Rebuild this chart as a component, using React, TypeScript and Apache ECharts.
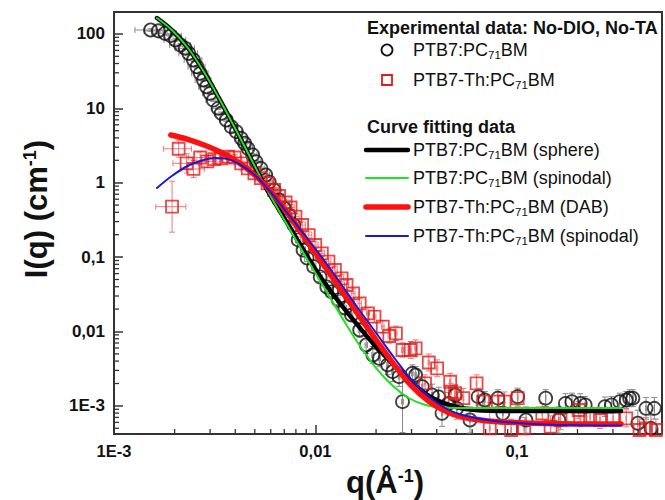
import React, { useEffect, useRef } from "react";
import * as echarts from "echarts";

const FONT = "'Liberation Sans', Arial, Helvetica, sans-serif";

// ---------- Experimental data: PTB7:PC71BM (circles) ----------
const qBlack = [
  0.00152, 0.00166, 0.00179, 0.00191, 0.00202, 0.00214, 0.00226, 0.00235, 0.00248, 0.00258,
  0.00268, 0.00278, 0.00288, 0.003, 0.00311, 0.00329, 0.00341, 0.00361, 0.00382, 0.00405,
  0.00428, 0.00445, 0.00462, 0.00488, 0.00507, 0.00536, 0.00567, 0.0059, 0.00624, 0.0066,
  0.00698, 0.00739, 0.00782, 0.00821, 0.00868, 0.00909, 0.0098, 0.01056, 0.01139, 0.01205,
  0.01299, 0.014, 0.0151, 0.01658, 0.01788, 0.01929, 0.02077, 0.02284, 0.02417, 0.02604,
  0.02706, 0.03029, 0.03144, 0.03392, 0.03797, 0.0409, 0.0425, 0.0458, 0.0494, 0.05035,
  0.05851, 0.06425, 0.0693, 0.08052, 0.0852, 0.1009, 0.111, 0.139, 0.1616, 0.1743,
  0.1877, 0.2064, 0.2184, 0.2737, 0.2949, 0.3242, 0.3492, 0.3629, 0.3767, 0.3985,
  0.4377, 0.4633, 0.4814,
];
const iBlack = [
  112.8, 110, 101.9, 94.6, 82.8, 70.9, 64.0, 54.8, 44.6, 36.2,
  29.5, 24.0, 19.5, 15.9, 12.9, 10.0, 8.57, 6.96, 5.66, 4.85,
  3.95, 3.39, 2.9, 2.36, 1.92, 1.56, 1.27, 1.02, 0.798, 0.585,
  0.457, 0.368, 0.27, 0.17, 0.1246, 0.0973, 0.0743, 0.054, 0.0396, 0.034,
  0.0265, 0.0207, 0.01667, 0.01047, 0.00658, 0.00483, 0.00436, 0.00355, 0.00288, 0.00247,
  0.00114, 0.00274, 0.0026, 0.00181, 0.0014, 0.00132, 0.000795, 0.00108, 0.0014, 0.000928,
  0.000646, 0.00133, 0.0012, 0.00127, 0.000795, 0.00133, 0.000646, 0.00127, 0.000646, 0.00108,
  0.00114, 0.00108, 0.00103, 0.000975, 0.00103, 0.00114, 0.0012, 0.00127, 0.00127, 0.000584,
  0.000928, 0.0005, 0.000928,
];
// vertical error (multiplicative factor)
const eyBlack = [
  1.04, 1.04, 1.04, 1.04, 1.04, 1.04, 1.04, 1.04, 1.04, 1.04,
  1.04, 1.04, 1.04, 1.04, 1.04, 1.04, 1.04, 1.04, 1.04, 1.04,
  1.04, 1.04, 1.04, 1.04, 1.04, 1.04, 1.04, 1.04, 1.05, 1.05,
  1.08, 1.08, 1.1, 1.1, 1.1, 1.12, 1.12, 1.15, 1.15, 1.15,
  1.15, 1.2, 1.2, 1.25, 1.3, 1.3, 1.3, 1.35, 1.35, 1.35,
  2.6, 1.3, 1.3, 1.35, 1.4, 1.35, 1.5, 1.4, 1.35, 1.4,
  1.5, 1.3, 1.3, 1.3, 1.4, 1.3, 1.5, 1.3, 1.5, 1.35,
  1.3, 1.35, 1.3, 1.35, 1.3, 1.3, 1.3, 1.3, 1.3, 1.5,
  1.4, 1.5, 1.4,
];
const dqBlack = 0.00025;

// ---------- Experimental data: PTB7-Th:PC71BM (squares) ----------
const qRed = [
  0.001942, 0.002094, 0.002292, 0.002481, 0.002676, 0.002906, 0.003145, 0.003403, 0.003684, 0.003972,
  0.00428, 0.004615, 0.004978, 0.005363, 0.005785, 0.006239, 0.0066, 0.007112, 0.007523, 0.007962,
  0.008588, 0.009263, 0.009977, 0.01076, 0.01161, 0.0125, 0.01349, 0.01427, 0.01539, 0.01658,
  0.01823, 0.01964, 0.0216, 0.02327, 0.02509, 0.02706, 0.02972, 0.03144, 0.035, 0.03654,
  0.04018, 0.04668, 0.047, 0.04938, 0.05423, 0.0631, 0.068, 0.07334, 0.08052, 0.08683,
  0.09367, 0.1009, 0.1088, 0.1338, 0.1471, 0.1647, 0.2025, 0.2064, 0.231, 0.2587,
  0.3006, 0.3492, 0.4064, 0.4377, 0.49,
];
const iRed = [
  0.476, 2.86, 1.82, 1.53, 2.18, 1.93, 2.08, 2.13, 2.24, 2.18,
  1.82, 1.56, 1.34, 1.15, 0.98, 0.798, 0.663, 0.542, 0.464, 0.349,
  0.27, 0.198, 0.1454, 0.1125, 0.0867, 0.0671, 0.0519, 0.0422, 0.0326, 0.0239,
  0.01757, 0.01581, 0.0116, 0.0087, 0.00946, 0.00564, 0.00564, 0.00594, 0.00201, 0.00383,
  0.0032, 0.00211, 0.00155, 0.00148, 0.00127, 0.00201, 0.00114, 0.0005, 0.00114, 0.00114,
  0.000474, 0.00127, 0.0005, 0.000795, 0.000525, 0.000646, 0.000881, 0.000681, 0.000716, 0.000646,
  0.000681, 0.000681, 0.000474, 0.0005, 0.000474,
];
const eyRed = [
  2.2, 1.3, 1.35, 1.3, 1.2, 1.2, 1.15, 1.12, 1.1, 1.1,
  1.08, 1.08, 1.08, 1.08, 1.08, 1.08, 1.08, 1.08, 1.1, 1.1,
  1.1, 1.1, 1.1, 1.1, 1.12, 1.12, 1.12, 1.15, 1.15, 1.15,
  1.2, 1.2, 1.2, 1.25, 1.25, 1.25, 1.3, 1.3, 1.3, 1.3,
  1.3, 1.3, 1.3, 1.3, 1.35, 1.3, 1.35, 2.2, 1.35, 1.35,
  1.4, 1.3, 1.4, 1.35, 1.4, 1.35, 1.3, 1.3, 1.3, 1.3,
  1.3, 1.3, 1.4, 1.4, 1.4,
];
const dqRed = 0.00033;

// ---------- Curve fitting data ----------
const qSphere = [
  0.001634, 0.001936, 0.002345, 0.002841, 0.003403, 0.004123, 0.004994, 0.005785, 0.006475, 0.007499,
  0.008783, 0.01052, 0.01274, 0.01544, 0.0185, 0.0224, 0.02715, 0.03144, 0.0381, 0.04775,
  0.06192, 0.09721, 0.329,
];
const iSphere = [
  163.6, 112.8, 63.2, 28.7, 12.08, 4.56, 1.677, 0.781, 0.4714, 0.2461,
  0.1208, 0.0557, 0.02734, 0.01427, 0.00793, 0.00454, 0.002684, 0.00185, 0.001277, 0.000997,
  0.000881, 0.000854, 0.000854,
];
const qSpinG = [
  0.001634, 0.001936, 0.002345, 0.002841, 0.003403, 0.004123, 0.004994, 0.005785, 0.007249, 0.009085,
  0.01178, 0.01427, 0.01652, 0.02002, 0.02426, 0.02905, 0.03522, 0.04265, 0.06192, 0.329,
];
const iSpinG = [
  163.6, 112.8, 63.2, 28.7, 12.08, 4.56, 1.677, 0.781, 0.27, 0.0943,
  0.0291, 0.01223, 0.00658, 0.00323, 0.00185, 0.001277, 0.001028, 0.000952, 0.000937, 0.000937,
];
const qDAB = [
  0.001914, 0.002345, 0.002841, 0.003403, 0.004123, 0.004994, 0.005984, 0.007249, 0.009085, 0.01101,
  0.01319, 0.01597, 0.02002, 0.02509, 0.02972, 0.03641, 0.04412, 0.05345, 0.07757, 0.1364,
  0.329,
];
const iDAB = [
  4.377, 3.807, 3.162, 2.546, 1.897, 1.269, 0.773, 0.3915, 0.1646, 0.0783,
  0.03843, 0.01829, 0.00769, 0.003333, 0.00191, 0.001164, 0.000854, 0.000709, 0.000617, 0.00058,
  0.000571,
];
const qSpinB = [
  0.001634, 0.001936, 0.002345, 0.002841, 0.00318, 0.00356, 0.004123, 0.004994, 0.005984, 0.007249,
  0.009085, 0.01101, 0.01319, 0.01597, 0.02002, 0.02509, 0.02972, 0.03641, 0.04412, 0.05345,
  0.07757, 0.1364, 0.329,
];
const iSpinB = [
  0.849, 1.23, 1.703, 2.05, 2.148, 2.115, 1.812, 1.269, 0.75, 0.3915,
  0.1806, 0.0914, 0.04627, 0.02203, 0.00954, 0.00414, 0.0023, 0.001358, 0.000937, 0.000755,
  0.000627, 0.000562, 0.000545,
];

// ---------- Axes ----------
const X_MIN = 0.001;
const X_MAX = 0.5255;
const Y_MIN = 4.19e-4;
const Y_MAX = 197;
const xTickLabels: Record<string, string> = { "-3": "1E-3", "-2": "0,01", "-1": "0,1" };
const yTickLabels: Record<string, string> = {
  "-3": "1E-3", "-2": "0,01", "-1": "0,1", "0": "1", "1": "10", "2": "100",
};
const xMinorTicks = [
  0.002, 0.003, 0.004, 0.005, 0.006, 0.007, 0.008, 0.009,
  0.02, 0.03, 0.04, 0.05, 0.06, 0.07, 0.08, 0.09,
  0.2, 0.3, 0.4, 0.5,
];
const yMinorTicks = [
  0.0005, 0.0006, 0.0007, 0.0008, 0.0009,
  0.002, 0.003, 0.004, 0.005, 0.006, 0.007, 0.008, 0.009,
  0.02, 0.03, 0.04, 0.05, 0.06, 0.07, 0.08, 0.09,
  0.2, 0.3, 0.4, 0.5, 0.6, 0.7, 0.8, 0.9,
  2, 3, 4, 5, 6, 7, 8, 9,
  20, 30, 40, 50, 60, 70, 80, 90,
];

const xTitle = "q(Å{sup|-1})";
const yTitle = "I(q) (cm{sup|-1})";
const expHeader = "Experimental data: No-DIO, No-TA";
const expNames = ["PTB7:PC{sub|71}BM", "PTB7-Th:PC{sub|71}BM"];
const fitHeader = "Curve fitting data";
const fitNames = [
  "PTB7:PC{sub|71}BM (sphere)",
  "PTB7:PC{sub|71}BM (spinodal)",
  "PTB7-Th:PC{sub|71}BM (DAB)",
  "PTB7-Th:PC{sub|71}BM (spinodal)",
];
const fitColors = ["#000000", "#22e022", "#ff1010", "#1a1ad0"];
const fitWidths = [4.5, 2, 5.5, 2];

function decadeLabel(v: number, map: Record<string, string>) {
  const l = Math.log10(v);
  const r = Math.round(l);
  if (Math.abs(l - r) > 1e-6) return "";
  return map[String(r)] ?? "";
}

function errorBars(qs: number[], is: number[], eys: number[], dq: number, color: string) {
  return {
    type: "custom",
    silent: true,
    clip: true,
    z: 1,
    encode: { x: 0, y: 1 },
    data: qs.map((q, k) => [q, is[k], eys[k]]),
    renderItem: (params: any, api: any) => {
      const q = api.value(0) as number;
      const v = api.value(1) as number;
      const f = api.value(2) as number;
      const c = api.coord([q, v]);
      const lo = api.coord([Math.max(q - dq, 1e-9), v])[0];
      const hi = api.coord([q + dq, v])[0];
      const top = api.coord([q, v * f])[1];
      const bot = api.coord([q, v / f])[1];
      const cap = 3;
      const style = { stroke: color, lineWidth: 1 };
      const seg = (x1: number, y1: number, x2: number, y2: number) => ({
        type: "line",
        shape: { x1, y1, x2, y2 },
        style,
      });
      return {
        type: "group",
        children: [
          seg(lo, c[1], hi, c[1]),
          seg(lo, c[1] - cap, lo, c[1] + cap),
          seg(hi, c[1] - cap, hi, c[1] + cap),
          seg(c[0], top, c[0], bot),
          seg(c[0] - cap, top, c[0] + cap, top),
          seg(c[0] - cap, bot, c[0] + cap, bot),
        ],
      };
    },
  };
}

function fitLine(qs: number[], is: number[], k: number) {
  return {
    type: "line",
    data: qs.map((q, j) => [q, is[j]]),
    showSymbol: false,
    symbol: "none",
    smooth: 0.35,
    clip: true,
    z: 3 + k * 0.1,
    lineStyle: { color: fitColors[k], width: fitWidths[k], cap: "round", join: "round" },
  };
}

export default function App() {
  const ref = useRef<HTMLDivElement>(null);
  useEffect(() => {
    document.body.style.margin = "0";
    if (!ref.current) return;
    const chart = echarts.init(ref.current, null, { renderer: "svg" });

    const legendText = (text: string, x: number, y: number, bold: boolean) => ({
      type: "text",
      x,
      y,
      silent: true,
      style: {
        text,
        x: 0,
        y: 0,
        fill: "#111",
        fontFamily: FONT,
        fontSize: 18,
        fontWeight: bold ? "bold" : "normal",
        align: "left",
        textAlign: "left",
        verticalAlign: "middle",
        textVerticalAlign: "middle",
        rich: {
          sub: { fontSize: 11.5, fontFamily: FONT, fill: "#111", verticalAlign: "bottom", padding: [10, 0, 0, 0] },
        },
      },
    });

    const fitRows = [150, 178, 207, 236];
    const graphics: any[] = [
      legendText(expHeader, 367, 28, true),
      {
        type: "circle",
        silent: true,
        shape: { cx: 387, cy: 50, r: 5.5 },
        style: { fill: "none", stroke: "#111", lineWidth: 1.8 },
      },
      legendText(expNames[0], 413, 50, false),
      {
        type: "rect",
        silent: true,
        shape: { x: 382, y: 75, width: 10, height: 10 },
        style: { fill: "none", stroke: "#e21b1b", lineWidth: 1.8 },
      },
      legendText(expNames[1], 413, 80, false),
      legendText(fitHeader, 367, 127, true),
      ...fitRows.flatMap((y, k) => [
        {
          type: "line",
          silent: true,
          shape: { x1: 366, y1: y, x2: 408, y2: y },
          style: { stroke: fitColors[k], lineWidth: fitWidths[k], lineCap: "round" },
        },
        legendText(fitNames[k], 413, y, false),
      ]),
      {
        type: "text",
        x: 36,
        y: 209,
        rotation: Math.PI / 2,
        silent: true,
        style: {
          text: yTitle,
          x: 0,
          y: 0,
          fill: "#111",
          fontFamily: FONT,
          fontSize: 31,
          fontWeight: "bold",
          align: "center",
          textAlign: "center",
          verticalAlign: "middle",
          textVerticalAlign: "middle",
          rich: { sup: { fontSize: 18, fontWeight: "bold", fontFamily: FONT, fill: "#111", verticalAlign: "top" } },
        },
      },
      {
        type: "text",
        x: 385,
        y: 482,
        silent: true,
        style: {
          text: xTitle,
          x: 0,
          y: 0,
          fill: "#111",
          fontFamily: FONT,
          fontSize: 31,
          fontWeight: "bold",
          align: "center",
          textAlign: "center",
          verticalAlign: "middle",
          textVerticalAlign: "middle",
          rich: { sup: { fontSize: 18, fontWeight: "bold", fontFamily: FONT, fill: "#111", verticalAlign: "top" } },
        },
      },
    ];

    const axisCommon = {
      type: "log",
      logBase: 10,
      axisLine: { show: true, lineStyle: { color: "#333", width: 2 } },
      axisTick: { show: true, inside: true, length: 9, lineStyle: { color: "#333", width: 1.5 } },
      splitLine: { show: false },
      minorTick: { show: false },
    };

    chart.setOption({
      animation: false,
      backgroundColor: "#ffffff",
      grid: {
        left: 114,
        top: 12,
        width: 555,
        height: 422,
        show: true,
        borderColor: "#333",
        borderWidth: 2,
        backgroundColor: "transparent",
      },
      xAxis: {
        ...axisCommon,
        min: X_MIN,
        max: X_MAX,
        axisLabel: {
          margin: 8,
          color: "#111",
          fontFamily: FONT,
          fontSize: 16.5,
          fontWeight: "bold",
          formatter: (v: number) => decadeLabel(v, xTickLabels),
        },
      },
      yAxis: {
        ...axisCommon,
        min: Y_MIN,
        max: Y_MAX,
        axisLabel: {
          margin: 9,
          color: "#111",
          fontFamily: FONT,
          fontSize: 17,
          fontWeight: "bold",
          formatter: (v: number) => decadeLabel(v, yTickLabels),
        },
      },
      graphic: graphics,
      series: [
        errorBars(qBlack, iBlack, eyBlack, dqBlack, "#8a8a8a"),
        errorBars(qRed, iRed, eyRed, dqRed, "#f07a7a"),
        {
          type: "scatter",
          data: qBlack.map((q, k) => [q, iBlack[k]]),
          symbol: "circle",
          symbolSize: 13,
          clip: true,
          z: 2,
          itemStyle: { color: "rgba(0,0,0,0)", borderColor: "#111", borderWidth: 1.8 },
        },
        {
          type: "scatter",
          data: qRed.map((q, k) => [q, iRed[k]]),
          symbol: "rect",
          symbolSize: 12,
          clip: true,
          z: 2,
          itemStyle: { color: "rgba(0,0,0,0)", borderColor: "#e21b1b", borderWidth: 1.8 },
        },
        fitLine(qSphere, iSphere, 0),
        fitLine(qSpinG, iSpinG, 1),
        fitLine(qDAB, iDAB, 2),
        fitLine(qSpinB, iSpinB, 3),
        {
          type: "custom",
          silent: true,
          clip: false,
          z: 6,
          data: xMinorTicks.map((v) => [v, Y_MIN]),
          encode: { x: 0, y: 1 },
          renderItem: (params: any, api: any) => {
            const x = api.coord([api.value(0), Y_MIN])[0];
            const cs = params.coordSys;
            const yb = cs.y + cs.height;
            return {
              type: "line",
              shape: { x1: x, y1: yb, x2: x, y2: yb - 5 },
              style: { stroke: "#333", lineWidth: 1.3 },
            };
          },
        },
        {
          type: "custom",
          silent: true,
          clip: false,
          z: 6,
          data: yMinorTicks.map((v) => [X_MIN, v]),
          encode: { x: 0, y: 1 },
          renderItem: (params: any, api: any) => {
            const y = api.coord([X_MIN, api.value(1)])[1];
            const cs = params.coordSys;
            return {
              type: "line",
              shape: { x1: cs.x, y1: y, x2: cs.x + 5, y2: y },
              style: { stroke: "#333", lineWidth: 1.3 },
            };
          },
        },
      ],
    });
    return () => chart.dispose();
  }, []);

  return (
    <div
      ref={ref}
      style={{ width: 665, height: 500, position: "absolute", left: 0, top: 0, background: "#fff" }}
    />
  );
}
